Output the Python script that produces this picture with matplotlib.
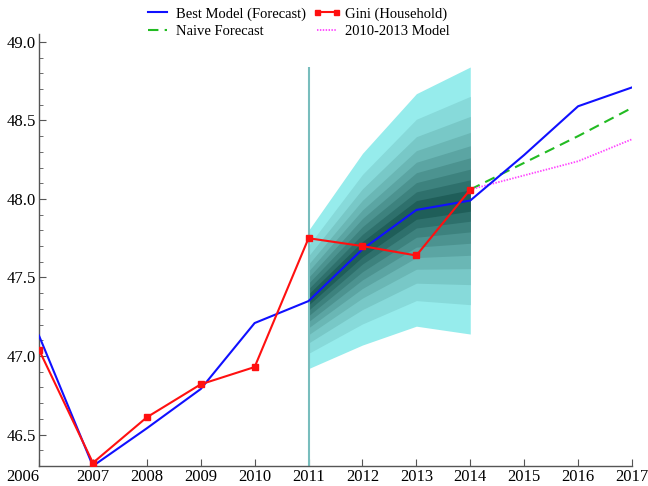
import numpy as np
import matplotlib
matplotlib.use("Agg")
import matplotlib.pyplot as plt
from matplotlib.ticker import MultipleLocator, FormatStrFormatter

plt.rcParams['font.family'] = ['Liberation Serif', 'DejaVu Serif']

# ---- data ----
years_hist = [2006, 2007, 2008, 2009, 2010, 2011, 2012, 2013, 2014]
gini_household = [47.04, 46.32, 46.61, 46.82, 46.93, 47.75, 47.70, 47.64, 48.06]

years_model = [2006, 2007, 2008, 2009, 2010, 2011, 2012, 2013, 2014, 2015, 2016, 2017]
best_model = [47.13, 46.30, 46.54, 46.79, 47.21, 47.35, 47.68, 47.93, 47.99, 48.28, 48.59, 48.71]

years_fc = [2014, 2015, 2016, 2017]
naive_forecast = [48.06, 48.23, 48.40, 48.58]
model_2010_2013 = [48.06, 48.15, 48.24, 48.38]

# fan chart: centre and outer half-width per year
fan_years = [2011, 2012, 2013, 2014]
fan_center = [47.36, 47.68, 47.93, 47.99]
fan_halfwidth = [0.44, 0.61, 0.74, 0.85]
# band edges as fractions of the outer half-width (outermost first)
fan_levels = [1.0, 0.78, 0.63, 0.51, 0.41, 0.32, 0.235, 0.155, 0.08]

x_ticks = list(range(2006, 2018))

# ---- figure ----
fig = plt.figure(figsize=(6.48, 4.86), dpi=100)
ax = fig.add_axes([39 / 648, 20 / 486, 593 / 648, 432 / 486])

fc = np.array(fan_center)
hw = np.array(fan_halfwidth)
outer = np.array([0.59, 0.925, 0.925])
inner = np.array([0.12, 0.37, 0.35])
n = len(fan_levels)
for i, lv in enumerate(fan_levels):
    t = i / (n - 1)
    col = outer * (1 - t) + inner * t
    ax.fill_between(fan_years, fc - lv * hw, fc + lv * hw, color=col,
                    linewidth=0, zorder=1)

ax.vlines(2011, 46.3, max(fc + hw), color=(0.47, 0.74, 0.74), lw=1.5, zorder=2)

ax.plot(years_model, best_model, color='#1010ff', lw=1.5, zorder=4,
        label='Best Model (Forecast)')
ax.plot(years_fc, naive_forecast, color='#22bb22', lw=1.5, ls=(0, (5, 3)),
        zorder=3, label='Naive Forecast')
ax.plot(years_hist, gini_household, color='#ff1010', lw=1.5, marker='s',
        markersize=4.5, zorder=5, label='Gini (Household)')
ax.plot(years_fc, model_2010_2013, color='#ff44ff', lw=1.3, ls=(0, (0.8, 0.8)),
        zorder=3, label='2010-2013 Model')

ax.set_xlim(2006, 2017)
ax.set_ylim(46.3, 49.05)
ax.set_xticks(x_ticks)
ax.set_xticklabels([str(y) for y in x_ticks])
ax.yaxis.set_major_locator(MultipleLocator(0.5))
ax.yaxis.set_minor_locator(MultipleLocator(0.1))
ax.yaxis.set_major_formatter(FormatStrFormatter('%.1f'))

for s in ['top', 'right']:
    ax.spines[s].set_visible(False)
for s in ['left', 'bottom']:
    ax.spines[s].set_color('#555555')
    ax.spines[s].set_linewidth(1.0)

ax.tick_params(axis='both', which='both', direction='in', colors='#555555',
               labelcolor='black', labelsize=12, pad=2)
ax.tick_params(axis='both', which='major', length=5)
ax.tick_params(axis='y', which='minor', length=3)
ax.tick_params(axis='x', which='minor', bottom=False)

labels = ax.get_xticklabels()
labels[0].set_ha('right')

h, l = ax.get_legend_handles_labels()
fig.legend(h, l, ncol=2, numpoints=2,
           loc='upper left', bbox_to_anchor=(136 / 648, 1.0), frameon=False,
           fontsize=10.5, handlelength=1.9, handletextpad=0.35,
           columnspacing=0.45, labelspacing=0.28, borderaxespad=0.1,
           markerscale=0.8)

fig.savefig('out.png', dpi=100)
